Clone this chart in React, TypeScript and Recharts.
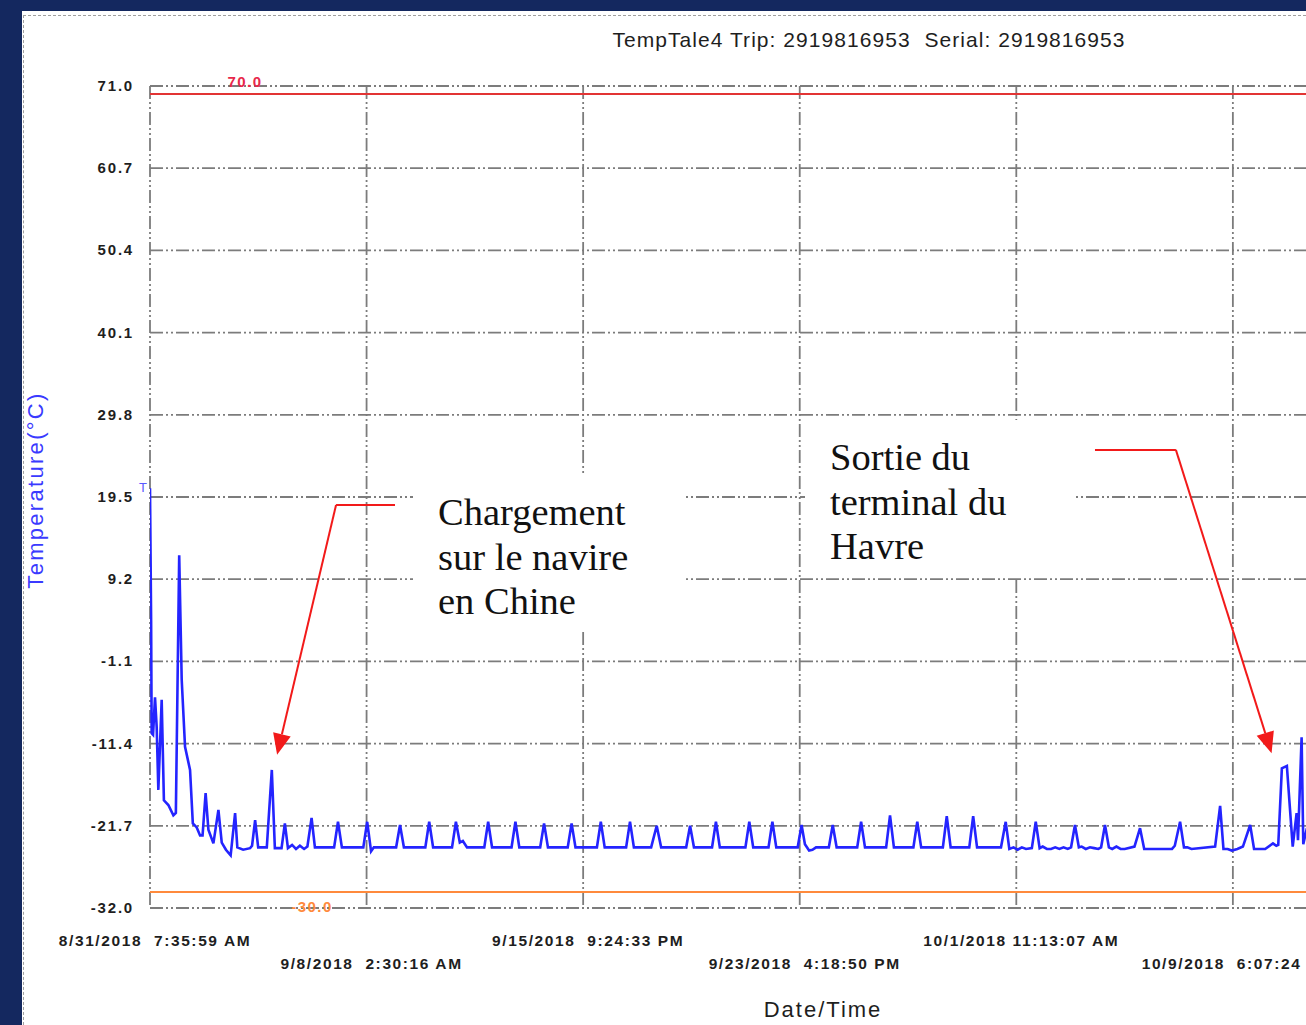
import React from 'react';
import {
  ComposedChart,
  Line,
  XAxis,
  YAxis,
  CartesianGrid,
  ReferenceLine,
  ReferenceDot,
} from 'recharts';

// ---- data ----
const X_TICK_DAYS = [0, 7.7877, 15.5754, 23.3631, 31.1508, 38.9385];
const X_TICK_LABELS = [
  '8/31/2018  7:35:59 AM',
  '9/8/2018  2:30:16 AM',
  '9/15/2018  9:24:33 PM',
  '9/23/2018  4:18:50 PM',
  '10/1/2018 11:13:07 AM',
  '10/9/2018  6:07:24 AM',
];
const Y_TICKS = [71.0, 60.7, 50.4, 40.1, 29.8, 19.5, 9.2, -1.1, -11.4, -21.7, -32.0];
const HIGH_LIMIT = 70.0;
const LOW_LIMIT = -30.0;

// elapsed time in days since 8/31/2018 7:35:59 AM
const TIME_DAYS = [
  0.0, 0.04, 0.06, 0.11, 0.18, 0.24, 0.3, 0.42, 0.5, 0.66, 0.84, 0.93, 1.05, 1.14, 1.26, 1.44,
  1.54, 1.68, 1.8, 1.89, 2.0, 2.1, 2.28, 2.46, 2.58, 2.73, 2.9, 3.06, 3.14, 3.35, 3.6, 3.67,
  3.78, 3.89, 4.2, 4.38, 4.49, 4.73, 4.85, 4.96, 5.11, 5.25, 5.39, 5.54, 5.66, 5.81, 5.93,
  6.62, 6.76, 6.9, 7.67, 7.81, 7.95, 8.05, 8.85, 8.99, 9.13, 9.9, 10.04, 10.18, 10.86, 11.0,
  11.14, 11.25, 11.4, 12.02, 12.16, 12.3, 13.0, 13.14, 13.28, 14.03, 14.17, 14.31, 15.02,
  15.16, 15.3, 16.07, 16.21, 16.35, 17.12, 17.26, 17.4, 18.02, 18.22, 18.38, 19.28, 19.42,
  19.56, 20.21, 20.35, 20.49, 21.41, 21.55, 21.69, 22.24, 22.38, 22.52, 23.29, 23.43, 23.55,
  23.7, 23.82, 23.95, 24.41, 24.55, 24.69, 25.43, 25.57, 25.71, 26.47, 26.61, 26.75, 27.45,
  27.59, 27.73, 28.51, 28.65, 28.79, 29.46, 29.6, 29.74, 30.6, 30.77, 30.9, 31.05, 31.2,
  31.35, 31.5, 31.71, 31.85, 31.99, 32.1, 32.25, 32.4, 32.55, 32.7, 32.85, 33.0, 33.12,
  33.26, 33.4, 33.5, 33.65, 33.8, 33.95, 34.1, 34.2, 34.34, 34.48, 34.6, 34.75, 34.9, 35.05,
  35.4, 35.6, 35.75, 36.75, 36.85, 37.04, 37.18, 37.3, 37.45, 38.3, 38.48, 38.6, 38.75, 38.9,
  39.1, 39.3, 39.56, 39.7, 40.1, 40.38, 40.5, 40.57, 40.7, 40.88, 41.09, 41.23, 41.28, 41.41,
  41.47, 41.6, 41.7,
];
const TEMP_C = [
  20.6, 4.0, -10.1, -10.3, -5.6, -9.3, -17.2, -5.9, -18.5, -19.1, -20.4, -20.1, 12.2, -3.4,
  -11.8, -14.7, -21.4, -21.9, -22.9, -22.9, -17.6, -22.2, -23.9, -19.7, -23.8, -24.7, -25.4,
  -20.1, -24.4, -24.7, -24.5, -24.2, -21.0, -24.4, -24.4, -14.7, -24.5, -24.5, -21.4, -24.5,
  -24.1, -24.6, -24.2, -24.6, -24.3, -20.7, -24.4,
  -24.4, -21.2, -24.4, -24.4, -21.2, -24.9, -24.4, -24.4, -21.6, -24.4, -24.4, -21.2, -24.4,
  -24.4, -21.2, -23.8, -23.6, -24.4, -24.4, -21.2, -24.4, -24.4, -21.2, -24.4, -24.4, -21.4,
  -24.4, -24.4, -21.4, -24.4, -24.4, -21.2, -24.4, -24.4, -21.2, -24.4, -24.4, -21.7, -24.4,
  -24.4, -21.7, -24.4, -24.4, -21.2, -24.4, -24.4, -21.2, -24.4, -24.4, -21.2, -24.4, -24.4,
  -21.6, -24.0, -24.8, -24.7, -24.4, -24.4, -21.6, -24.4, -24.4, -21.2, -24.4, -24.4, -20.4,
  -24.4, -24.4, -21.2, -24.4, -24.4, -20.5, -24.4, -24.4, -20.5, -24.4, -24.4, -21.2, -24.6,
  -24.4, -24.7, -24.4, -24.6, -24.5, -21.2, -24.5, -24.3, -24.6, -24.6, -24.4, -24.6, -24.4,
  -24.6, -24.4, -21.6, -24.4, -24.3, -24.6, -24.4, -24.5, -24.6, -24.4, -21.6, -24.4, -24.6,
  -24.3, -24.6, -24.6, -24.3, -22.0, -24.6, -24.6, -24.2, -21.2, -24.4, -24.4, -24.6, -24.3,
  -19.2, -24.6, -24.6, -24.8, -24.6, -24.3, -21.6, -24.6, -24.6, -23.9, -24.2, -24.1, -14.5,
  -14.2, -24.3, -20.1, -23.5, -10.6, -24.0, -22.0, -24.3,
];

const DATA = TIME_DAYS.map((t, i) => ({ t, temp: TEMP_C[i] }));

// annotation arrows (data coordinates: days, °C)
const ARROW_1_KNEE = [
  { x: 8.81, y: 18.5 },
  { x: 6.69, y: 18.5 },
];
const ARROW_1_HEAD = [
  { x: 6.69, y: 18.5 },
  { x: 4.57, y: -12.8 },
];
const ARROW_2_KNEE = [
  { x: 33.98, y: 25.4 },
  { x: 36.89, y: 25.4 },
];
const ARROW_2_HEAD = [
  { x: 36.89, y: 25.4 },
  { x: 40.33, y: -12.6 },
];

const NAVY = '#14285f';
const ARROW_RED = '#f21a1a';
const SANS = '"Liberation Sans", Arial, sans-serif';
const SERIF = '"Liberation Serif", "Times New Roman", serif';

const XTick = (props: any) => {
  const { x, y, payload, index } = props;
  const row = index % 2 === 1 ? 61 : 38;
  return (
    <text
      x={x + 5}
      y={y + row}
      textAnchor="middle"
      fontFamily={SANS}
      fontWeight="bold"
      fontSize={15.5}
      letterSpacing={1.6}
      fill="#1e1e1e"
      style={{ whiteSpace: 'pre' }}
    >
      {X_TICK_LABELS[X_TICK_DAYS.indexOf(payload.value)] ?? ''}
    </text>
  );
};

const YTick = (props: any) => {
  const { x, y, payload } = props;
  return (
    <text
      x={x - 16}
      y={y + 5}
      textAnchor="end"
      fontFamily={SANS}
      fontWeight="bold"
      fontSize={15}
      letterSpacing={1.8}
      fill="#1e1e1e"
    >
      {Number(payload.value).toFixed(1)}
    </text>
  );
};

const plainLine = (props: any) => (
  <line x1={props.x1} y1={props.y1} x2={props.x2} y2={props.y2} stroke={ARROW_RED} strokeWidth={2} />
);

const arrowLine = (props: any) => {
  const { x1, y1, x2, y2 } = props;
  const dx = x2 - x1;
  const dy = y2 - y1;
  const len = Math.hypot(dx, dy) || 1;
  const ux = dx / len;
  const uy = dy / len;
  const L = 21;
  const W = 9;
  const bx = x2 - ux * L;
  const by = y2 - uy * L;
  const px = -uy;
  const py = ux;
  return (
    <g>
      <line x1={x1} y1={y1} x2={bx} y2={by} stroke={ARROW_RED} strokeWidth={2} />
      <polygon
        points={`${x2},${y2} ${bx + px * W},${by + py * W} ${bx - px * W},${by - py * W}`}
        fill={ARROW_RED}
      />
    </g>
  );
};

const annotationBox = (left: number, top: number, lines: string[]) => (
  <div
    style={{
      position: 'absolute',
      left,
      top,
      width: 270,
      height: 157,
      background: '#ffffff',
      boxSizing: 'border-box',
      paddingLeft: 25,
      paddingTop: 15,
      fontFamily: SERIF,
      fontSize: 38.5,
      lineHeight: '44.5px',
      color: '#111',
      whiteSpace: 'nowrap',
    }}
  >
    {lines.map((l) => (
      <div key={l}>{l}</div>
    ))}
  </div>
);

export default function App() {
  return (
    <div
      style={{
        position: 'fixed',
        left: 0,
        top: 0,
        width: 1306,
        height: 1025,
        overflow: 'hidden',
        background: NAVY,
      }}
    >
      <div style={{ position: 'absolute', left: 22, top: 11, right: 0, bottom: 0, background: '#fff' }} />
      <div style={{ position: 'absolute', left: 23, top: 15, right: 0, borderTop: '1.5px dashed #a0a0a0' }} />
      <div style={{ position: 'absolute', left: 23, top: 15, bottom: 0, borderLeft: '1.5px dashed #a0a0a0' }} />

      <div style={{ position: 'absolute', left: 0, top: 0 }}>
        <ComposedChart
          width={1700}
          height={1025}
          data={DATA}
          margin={{ top: 86, right: 204, bottom: 37, left: 50 }}
        >
          <CartesianGrid stroke="#7c7c7c" strokeWidth={1.8} strokeDasharray="13 3 2 3 2 3" />
          <XAxis
            type="number"
            dataKey="t"
            domain={[0, 48.4]}
            ticks={X_TICK_DAYS}
            interval={0}
            tick={<XTick />}
            tickLine={false}
            axisLine={false}
            tickSize={0}
            tickMargin={0}
            height={80}
            allowDataOverflow
          />
          <YAxis
            type="number"
            domain={[-32, 71]}
            ticks={Y_TICKS}
            interval={0}
            tick={<YTick />}
            tickLine={false}
            axisLine={false}
            tickSize={0}
            tickMargin={0}
            width={100}
            allowDataOverflow
          />
          <ReferenceLine
            y={HIGH_LIMIT}
            stroke="#e23434"
            strokeWidth={2}
            label={(p: any) => (
              <text
                x={p.viewBox.x + 95}
                y={p.viewBox.y - 7}
                textAnchor="middle"
                fontFamily={SANS}
                fontWeight="bold"
                fontSize={15}
                letterSpacing={1.5}
                fill="#e8284a"
              >
                {HIGH_LIMIT.toFixed(1)}
              </text>
            )}
          />
          <ReferenceLine
            y={LOW_LIMIT}
            stroke="#ff8a3c"
            strokeWidth={2}
            label={(p: any) => (
              <text
                x={p.viewBox.x + 162}
                y={p.viewBox.y + 20}
                textAnchor="middle"
                fontFamily={SANS}
                fontWeight="bold"
                fontSize={15}
                letterSpacing={1.5}
                fill="#ff8a3c"
              >
                {LOW_LIMIT.toFixed(1)}
              </text>
            )}
          />
          <ReferenceLine segment={ARROW_1_KNEE} shape={plainLine} />
          <ReferenceLine segment={ARROW_1_HEAD} shape={arrowLine} />
          <ReferenceLine segment={ARROW_2_KNEE} shape={plainLine} />
          <ReferenceLine segment={ARROW_2_HEAD} shape={arrowLine} />
          <Line
            type="linear"
            dataKey="temp"
            stroke="#2424ff"
            strokeWidth={2.6}
            dot={false}
            isAnimationActive={false}
          />
          <ReferenceDot
            x={TIME_DAYS[0]}
            y={TEMP_C[0]}
            r={0}
            fill="none"
            stroke="none"
            label={(p: any) => (
              <text
                x={p.viewBox.x - 7}
                y={p.viewBox.y + 4}
                textAnchor="middle"
                fontFamily={SANS}
                fontSize={13}
                fill="#5a5aff"
              >
                T
              </text>
            )}
          />
        </ComposedChart>
      </div>

      {annotationBox(413, 475, ['Chargement', 'sur le navire', 'en Chine'])}
      {annotationBox(805, 420, ['Sortie du', 'terminal du', 'Havre'])}

      <div
        style={{
          position: 'absolute',
          left: 869,
          top: 40,
          transform: 'translate(-50%, -50%)',
          fontFamily: SANS,
          fontSize: 21,
          letterSpacing: 1.05,
          color: '#1e1e1e',
          whiteSpace: 'pre',
        }}
      >
        {'TempTale4 Trip: 2919816953  Serial: 2919816953'}
      </div>
      <div
        style={{
          position: 'absolute',
          left: 823,
          top: 1010,
          transform: 'translate(-50%, -50%)',
          fontFamily: SANS,
          fontSize: 22,
          letterSpacing: 2,
          color: '#1e1e1e',
          whiteSpace: 'nowrap',
        }}
      >
        Date/Time
      </div>
      <div
        style={{
          position: 'absolute',
          left: 36,
          top: 490,
          transform: 'translate(-50%, -50%) rotate(-90deg)',
          fontFamily: SANS,
          fontSize: 22,
          letterSpacing: 2.3,
          color: '#3a3aff',
          whiteSpace: 'nowrap',
        }}
      >
        Temperature(°C)
      </div>
    </div>
  );
}
